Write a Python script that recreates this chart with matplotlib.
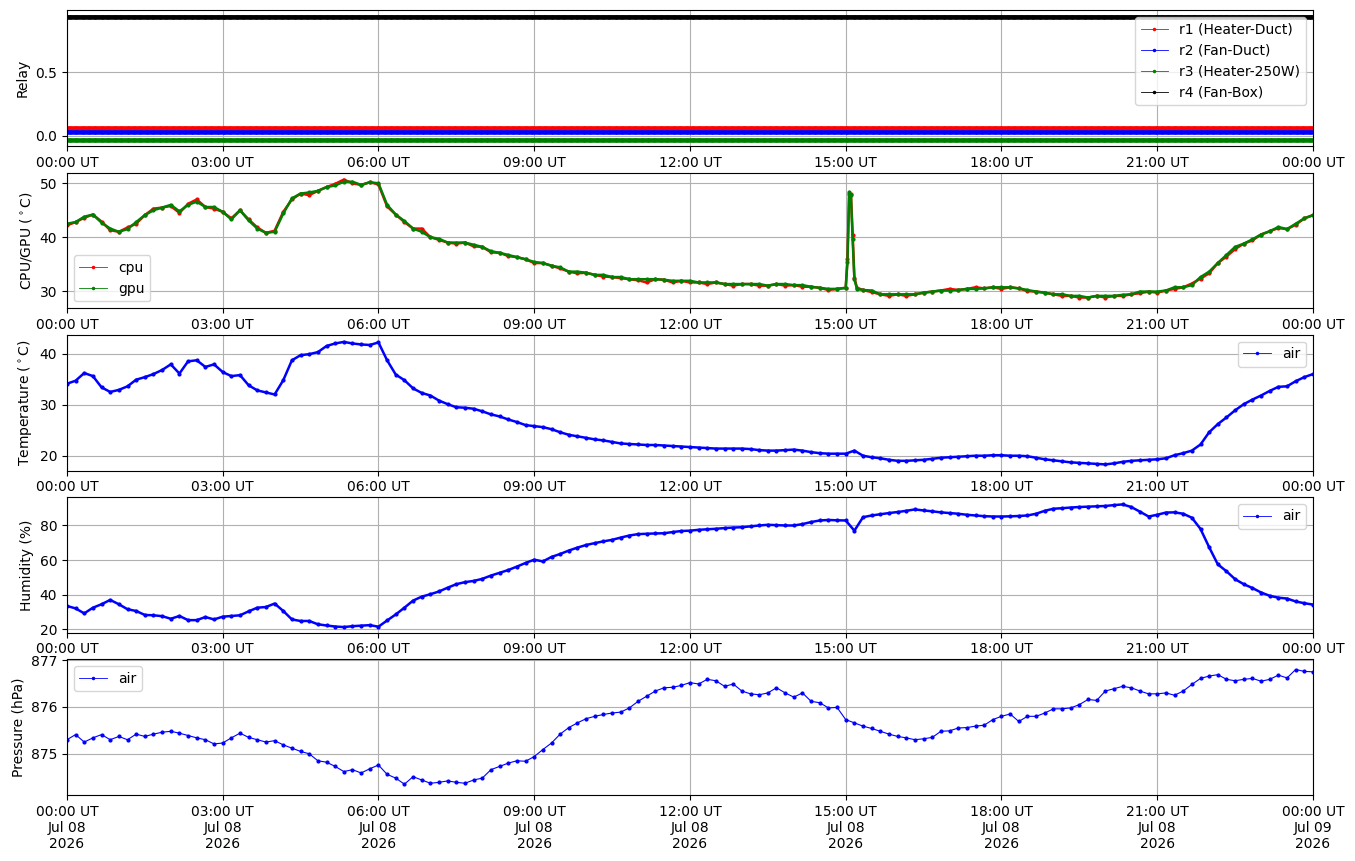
import matplotlib.pyplot as plt
import matplotlib.dates as mdates
from matplotlib.ticker import ScalarFormatter
import numpy as np
import pandas as pd

# sampling grid of the logger (10 min) for one day
times = pd.date_range("2026-07-08 00:00", "2026-07-09 00:00", freq="10min")
relay_times = pd.date_range("2026-07-08 00:00", "2026-07-09 00:00", freq="1min")

# relay states (offset per relay so the traces do not overlap)
r1_level = 0.0625
r2_level = 0.03125
r3_level = -0.03125
r4_level = 0.9375

gpu = [42.5, 42.8, 43.8, 44.2, 42.7, 41.6, 41.0, 41.5, 42.8, 44.1, 45.0, 45.5,
       46.0, 44.8, 46.0, 46.6, 45.6, 45.6, 44.7, 43.3, 45.0, 43.1, 41.6, 40.8,
       41.0, 44.4, 47.2, 48.1, 48.3, 48.6, 49.3, 49.6, 50.3, 50.3, 49.7, 50.2,
       50.0, 46.0, 44.2, 43.0, 41.6, 41.0, 40.0, 39.7, 39.0, 39.0, 39.0, 38.6,
       38.2, 37.4, 37.1, 36.7, 36.3, 35.9, 35.4, 35.2, 34.7, 34.4, 33.6, 33.6,
       33.4, 33.0, 33.0, 32.6, 32.6, 32.2, 32.2, 32.2, 32.2, 32.1, 31.9, 31.9,
       31.9, 31.6, 31.6, 31.6, 31.3, 31.3, 31.3, 31.3, 31.3, 31.0, 31.3, 31.3,
       31.1, 31.1, 30.8, 30.6, 30.4, 30.4, 30.6, 32.2, 30.2, 30.1, 29.4, 29.4,
       29.4, 29.4, 29.4, 29.7, 29.9, 30.1, 30.1, 30.2, 30.4, 30.4, 30.5, 30.7,
       30.7, 30.7, 30.5, 30.2, 29.9, 29.7, 29.4, 29.4, 29.1, 29.1, 28.8, 29.1,
       29.1, 29.1, 29.3, 29.4, 29.9, 29.9, 29.9, 30.1, 30.7, 30.7, 31.1, 32.6,
       33.6, 35.2, 36.7, 38.2, 38.8, 39.6, 40.5, 41.1, 41.9, 41.5, 42.5, 43.5,
       44.1]
cpu = [42.2, 42.8, 43.6, 44.2, 42.9, 41.3, 41.0, 41.8, 42.5, 44.1, 45.3, 45.5,
       45.8, 44.5, 46.2, 47.0, 45.6, 45.3, 44.7, 43.5, 45.0, 43.3, 41.8, 40.8,
       41.2, 44.7, 47.0, 48.1, 47.8, 48.6, 49.3, 49.9, 50.7, 50.0, 49.7, 50.2,
       49.8, 45.7, 44.2, 42.8, 41.6, 41.6, 40.0, 39.5, 39.0, 38.8, 39.0, 38.3,
       38.2, 37.2, 37.1, 36.5, 36.3, 35.9, 35.2, 35.2, 34.7, 34.2, 33.6, 33.3,
       33.4, 33.0, 32.7, 32.6, 32.4, 32.2, 32.0, 31.6, 32.2, 32.1, 31.6, 31.9,
       31.6, 31.6, 31.3, 31.6, 31.3, 31.0, 31.3, 31.3, 31.0, 31.0, 31.3, 31.0,
       31.1, 30.8, 30.8, 30.6, 30.2, 30.4, 30.6, 32.5, 30.2, 29.8, 29.4, 29.1,
       29.4, 29.1, 29.4, 29.7, 29.9, 30.1, 30.4, 30.2, 30.4, 30.7, 30.5, 30.7,
       30.4, 30.7, 30.5, 30.0, 29.9, 29.7, 29.4, 29.1, 29.1, 28.8, 28.8, 29.1,
       28.8, 29.1, 29.1, 29.4, 29.6, 29.9, 29.7, 30.1, 30.4, 30.7, 31.4, 32.3,
       33.3, 35.2, 36.4, 37.8, 38.8, 39.4, 40.5, 41.1, 41.7, 41.5, 42.3, 43.5,
       44.1]
# extra samples logged during the short load spike after 15:00
spike_times = pd.to_datetime(["2026-07-08 15:02", "2026-07-08 15:04",
                              "2026-07-08 15:06", "2026-07-08 15:08",
                              "2026-07-08 15:13"])
cpu_spike = [36.0, 48.0, 48.0, 40.5, 30.6]
gpu_spike = [35.4, 48.4, 47.8, 39.6, 30.4]

air_temp = [34.1, 34.7, 36.2, 35.6, 33.4, 32.5, 32.9, 33.6, 34.9, 35.4, 36.0, 36.8,
            37.9, 36.1, 38.5, 38.7, 37.4, 37.9, 36.4, 35.6, 35.8, 33.8, 32.8, 32.4,
            32.0, 34.8, 38.7, 39.7, 39.9, 40.3, 41.5, 42.0, 42.3, 42.0, 41.8, 41.7,
            42.2, 38.7, 35.9, 34.8, 33.2, 32.3, 31.8, 30.8, 30.1, 29.5, 29.4, 29.2,
            28.7, 28.1, 27.7, 27.1, 26.6, 26.0, 25.8, 25.6, 25.2, 24.6, 24.1, 23.8,
            23.5, 23.2, 23.0, 22.7, 22.4, 22.3, 22.2, 22.1, 22.1, 22.0, 21.9, 21.8,
            21.7, 21.6, 21.5, 21.4, 21.4, 21.4, 21.4, 21.3, 21.1, 21.0, 21.0, 21.1,
            21.2, 21.0, 20.7, 20.5, 20.4, 20.4, 20.4, 21.0, 20.0, 19.7, 19.5, 19.2,
            19.0, 19.0, 19.1, 19.2, 19.4, 19.6, 19.7, 19.8, 19.9, 20.0, 20.0, 20.1,
            20.1, 20.0, 20.0, 19.9, 19.6, 19.3, 19.1, 18.9, 18.7, 18.6, 18.5, 18.4,
            18.3, 18.5, 18.8, 19.0, 19.1, 19.2, 19.3, 19.5, 20.1, 20.5, 21.0, 22.2,
            24.6, 26.2, 27.5, 28.9, 30.1, 31.0, 31.8, 32.7, 33.5, 33.6, 34.6, 35.4,
            36.0]

air_hum = [33.4, 32.0, 29.1, 32.4, 34.4, 36.9, 34.4, 31.5, 30.5, 28.2, 28.0, 27.5,
           26.0, 27.6, 25.2, 25.2, 27.0, 25.6, 27.2, 27.6, 28.0, 30.3, 32.4, 32.8,
           34.8, 30.5, 25.6, 24.7, 24.7, 22.8, 22.1, 21.5, 21.2, 21.7, 22.0, 22.3,
           21.4, 25.0, 28.5, 32.4, 36.5, 38.8, 40.2, 41.8, 44.0, 46.0, 47.2, 47.9,
           49.1, 51.0, 52.6, 54.2, 56.2, 58.3, 60.2, 59.2, 61.8, 63.5, 65.5, 67.2,
           68.7, 69.8, 70.8, 71.7, 73.0, 74.2, 75.0, 75.2, 75.4, 75.5, 76.2, 76.8,
           77.0, 77.5, 77.8, 78.1, 78.5, 78.8, 79.0, 79.5, 80.0, 80.4, 80.2, 80.0,
           80.0, 80.8, 82.0, 82.9, 83.2, 83.0, 82.9, 77.0, 84.8, 85.8, 86.5, 87.2,
           87.8, 88.5, 89.3, 88.7, 88.2, 87.6, 87.2, 86.8, 86.2, 85.8, 85.4, 85.2,
           85.2, 85.3, 85.5, 85.8, 86.8, 88.5, 89.7, 90.0, 90.4, 90.7, 90.9, 91.1,
           91.3, 91.8, 92.2, 90.7, 88.0, 85.2, 86.2, 87.5, 87.6, 86.8, 84.5, 78.0,
           67.4, 57.5, 53.5, 48.9, 46.0, 43.8, 41.2, 39.3, 38.2, 37.7, 36.0, 35.0,
           34.2]

air_pres = [875.30, 875.41, 875.25, 875.34, 875.41, 875.30, 875.37, 875.30, 875.42, 875.37, 875.42, 875.46,
            875.48, 875.44, 875.39, 875.34, 875.30, 875.21, 875.23, 875.34, 875.44, 875.35, 875.30, 875.25,
            875.28, 875.19, 875.12, 875.05, 875.00, 874.85, 874.82, 874.73, 874.62, 874.66, 874.59, 874.68,
            874.76, 874.56, 874.48, 874.35, 874.51, 874.44, 874.37, 874.39, 874.42, 874.39, 874.37, 874.44,
            874.48, 874.66, 874.73, 874.80, 874.85, 874.84, 874.94, 875.09, 875.23, 875.42, 875.56, 875.66,
            875.75, 875.80, 875.84, 875.87, 875.89, 875.98, 876.12, 876.23, 876.34, 876.41, 876.42, 876.46,
            876.52, 876.49, 876.59, 876.56, 876.44, 876.49, 876.34, 876.28, 876.26, 876.30, 876.41, 876.30,
            876.21, 876.30, 876.12, 876.09, 875.98, 875.99, 875.73, 875.66, 875.59, 875.54, 875.48, 875.42,
            875.37, 875.34, 875.30, 875.32, 875.35, 875.48, 875.49, 875.55, 875.56, 875.59, 875.61, 875.73,
            875.80, 875.85, 875.69, 875.80, 875.80, 875.87, 875.96, 875.96, 875.98, 876.05, 876.16, 876.14,
            876.34, 876.39, 876.44, 876.41, 876.34, 876.28, 876.28, 876.30, 876.25, 876.34, 876.48, 876.61,
            876.66, 876.69, 876.59, 876.56, 876.59, 876.61, 876.55, 876.59, 876.68, 876.62, 876.80, 876.76,
            876.75]


def merge(t1, v1, t2, v2):
    s = pd.concat([pd.Series(v1, index=t1), pd.Series(v2, index=t2)]).sort_index()
    return s.index, s.values


def thin_legend(ax, loc):
    leg = ax.legend(loc=loc)
    for line in leg.get_lines():
        line.set_linewidth(0.6)
        line.set_markersize(3)
    return leg


cpu_t, cpu_v = merge(times, cpu, spike_times, cpu_spike)
gpu_t, gpu_v = merge(times, gpu, spike_times, gpu_spike)

style = dict(marker=".", markersize=4, linewidth=1.8)

fig, axes = plt.subplots(5, 1, figsize=(13.55, 8.61), dpi=100)
fig.subplots_adjust(left=0.0494, right=0.969, top=0.988, bottom=0.0767, hspace=0.195)

ax = axes[0]
ax.plot(relay_times, np.full(len(relay_times), r1_level), color="red", label="r1 (Heater-Duct)", **style)
ax.plot(relay_times, np.full(len(relay_times), r2_level), color="blue", label="r2 (Fan-Duct)", **style)
ax.plot(relay_times, np.full(len(relay_times), r3_level), color="green", label="r3 (Heater-250W)", **style)
ax.plot(relay_times, np.full(len(relay_times), r4_level), color="black", label="r4 (Fan-Box)", **style)
ax.set_ylabel("Relay")
thin_legend(ax, "upper right")

ax = axes[1]
ax.plot(cpu_t, cpu_v, color="red", label="cpu", **style)
ax.plot(gpu_t, gpu_v, color="green", label="gpu", **style)
ax.set_ylabel(r"CPU/GPU ($^\circ$C)")
ax.set_ylim(26.8, 52.0)
thin_legend(ax, "lower left")

ax = axes[2]
ax.plot(times, air_temp, color="blue", label="air", **style)
ax.set_ylabel(r"Temperature ($^\circ$C)")
ax.set_ylim(17.1, 43.7)
thin_legend(ax, "upper right")

ax = axes[3]
ax.plot(times, air_hum, color="blue", label="air", **style)
ax.set_ylabel("Humidity (%)")
ax.set_ylim(17.9, 96.5)
ax.set_yticks([20, 40, 60, 80])
thin_legend(ax, "upper right")

ax = axes[4]
ax.plot(times, air_pres, color="blue", label="air", markersize=4, marker=".", linewidth=0.8)
ax.set_ylabel("Pressure (hPa)")
ax.set_ylim(874.12, 877.02)
ax.set_yticks([875, 876, 877])
ax.yaxis.set_major_formatter(ScalarFormatter(useOffset=False))
thin_legend(ax, "upper left")

for i, ax in enumerate(axes):
    ax.set_xlim(times[0], times[-1])
    ax.xaxis.set_major_locator(mdates.HourLocator(interval=3))
    if i == len(axes) - 1:
        ax.xaxis.set_major_formatter(mdates.DateFormatter("%H:%M UT\n%b %d\n%Y"))
    else:
        ax.xaxis.set_major_formatter(mdates.DateFormatter("%H:%M UT"))
    ax.grid(True)

plt.savefig("out.png")
